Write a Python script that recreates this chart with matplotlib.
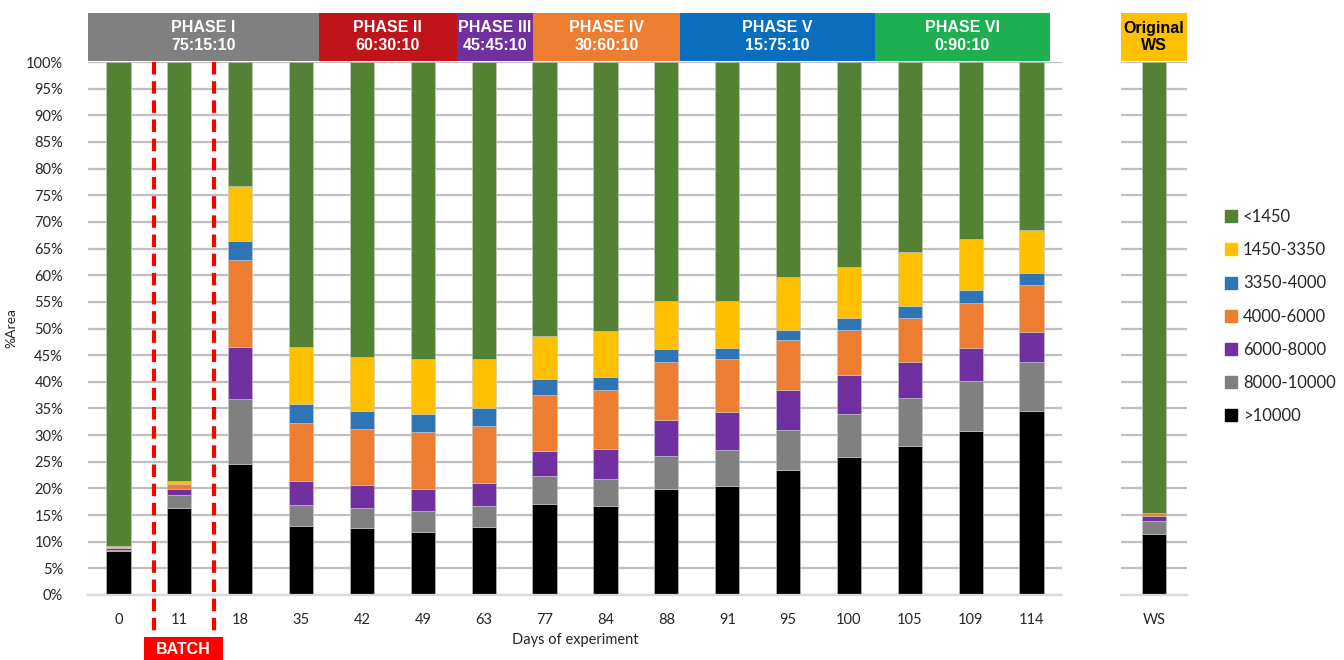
import matplotlib
matplotlib.use("Agg")
import matplotlib.pyplot as plt
import matplotlib.transforms as mtransforms
from matplotlib.lines import Line2D
from matplotlib.patches import Rectangle

plt.rcParams['font.family'] = ['Lato', 'DejaVu Sans']

# days of experiment (main panel) and the original wastewater bar
days = ["0", "11", "18", "35", "42", "49", "63", "77", "84", "88",
        "91", "95", "100", "105", "109", "114"]

# %Area per molecular weight range
gt10000 = [8.2, 16.4, 24.6, 12.9, 12.6, 11.9, 12.8, 17.0, 16.7, 19.8,
           20.4, 23.4, 25.8, 27.9, 30.7, 34.6]
r8000_10000 = [0.3, 2.4, 12.1, 4.0, 3.8, 3.85, 3.9, 5.3, 5.1, 6.2,
               6.8, 7.6, 8.1, 9.0, 9.5, 9.2]
r6000_8000 = [0.3, 1.1, 9.8, 4.5, 4.3, 4.15, 4.3, 4.8, 5.5, 6.8,
              7.2, 7.4, 7.3, 6.8, 6.1, 5.6]
r4000_6000 = [0.2, 0.9, 16.3, 10.9, 10.5, 10.6, 10.7, 10.5, 11.1, 11.0,
              9.8, 9.4, 8.5, 8.3, 8.4, 8.7]
r3350_4000 = [0.05, 0.1, 3.7, 3.5, 3.3, 3.4, 3.3, 2.9, 2.5, 2.4,
              2.1, 2.0, 2.3, 2.2, 2.6, 2.4]
r1450_3350 = [0.2, 0.4, 10.3, 10.8, 10.1, 10.3, 9.2, 8.0, 8.7, 8.9,
              8.9, 9.8, 9.6, 10.1, 9.4, 8.0]
lt1450 = [90.75, 78.7, 23.2, 53.4, 55.4, 55.8, 55.8, 51.5, 50.4, 44.9,
          44.8, 40.4, 38.4, 35.7, 33.3, 31.5]

ws_label = ["WS"]
ws_values = [11.4, 2.5, 0.9, 0.5, 0.0, 0.0, 84.7]

series_names = [">10000", "8000-10000", "6000-8000", "4000-6000",
                "3350-4000", "1450-3350", "<1450"]
series_colors = ["#000000", "#808080", "#7030A0", "#ED7D31",
                 "#2E75B6", "#FFC000", "#548235"]
series = [gt10000, r8000_10000, r6000_8000, r4000_6000,
          r3350_4000, r1450_3350, lt1450]

# phase headers: label, ratio, colour, x-range in bar index units
phases = [("PHASE I", "75:15:10", "#808080", -0.5, 3.29),
          ("PHASE II", "60:30:10", "#C0141A", 3.29, 5.56),
          ("PHASE III", "45:45:10", "#7030A0", 5.56, 6.81),
          ("PHASE IV", "30:60:10", "#ED7D31", 6.81, 9.22),
          ("PHASE V", "15:75:10", "#0A6EBF", 9.22, 12.42),
          ("PHASE VI", "0:90:10", "#1DAF50", 12.42, 15.3)]
batch_span = (0.59, 1.57)

grid_col = "#BFBFBF"
head_font = ['Liberation Sans Narrow', 'Liberation Sans', 'DejaVu Sans']

fig = plt.figure(figsize=(13.44, 6.6), dpi=100)
ax = fig.add_axes([88/1344, 1-595/660, (1062-88)/1344, 533/660])
ax2 = fig.add_axes([1121/1344, 1-595/660, (1187-1121)/1344, 533/660])


def style_axes(a):
    a.set_ylim(0, 100)
    a.set_yticks(range(0, 101, 5))
    a.yaxis.grid(True, color=grid_col, lw=1.6)
    a.set_axisbelow(True)
    for s in ["top", "right", "left"]:
        a.spines[s].set_visible(False)
    a.spines["bottom"].set_color("#D9D9D9")
    a.spines["bottom"].set_linewidth(1.6)
    a.tick_params(length=0, labelsize=10.5, colors="#262626")
    a.tick_params(axis="x", pad=13)


x = list(range(len(days)))
bottom = [0.0] * len(days)
for vals, col in zip(series, series_colors):
    ax.bar(x, vals, 0.4, bottom=bottom, color=col, edgecolor="#C8C8C8", lw=0.4)
    bottom = [b + v for b, v in zip(bottom, vals)]

style_axes(ax)
ax.set_xlim(-0.5, len(days) - 0.5)
ax.set_xticks(x)
ax.set_xticklabels(days)
ax.yaxis.set_major_formatter(matplotlib.ticker.FuncFormatter(lambda v, p: f"{v:.0f}%"))
ax.tick_params(axis="y", pad=18)
ax.set_xlabel("Days of experiment", fontsize=10.5, color="#262626", labelpad=4)
ax.set_ylabel("%Area", fontsize=10, color="#262626")
ax.yaxis.set_label_coords(-0.072, 0.5)

b = 0.0
for v, col in zip(ws_values, series_colors):
    ax2.bar([0], [v], 0.37, bottom=[b], color=col, edgecolor="#C8C8C8", lw=0.4)
    b += v
style_axes(ax2)
ax2.set_xlim(-0.5, 0.5)
ax2.set_xticks([0])
ax2.set_xticklabels(ws_label)
ax2.set_yticklabels([])

# phase header boxes
trans = mtransforms.blended_transform_factory(ax.transData, fig.transFigure)
y0, y1 = 1 - 61/660, 1 - 13/660
for name, ratio, col, xa, xb in phases:
    ax.add_patch(Rectangle((xa, y0), xb - xa, y1 - y0, transform=trans,
                           facecolor=col, edgecolor="none", clip_on=False))
    ax.text((xa + xb) / 2, (y0 + y1) / 2, name + "\n" + ratio, transform=trans,
            ha="center", va="center", color="white", fontsize=11.5,
            fontweight="bold", family=head_font, linespacing=1.25)

trans2 = mtransforms.blended_transform_factory(ax2.transData, fig.transFigure)
ax2.add_patch(Rectangle((-0.5, y0), 1.0, y1 - y0, transform=trans2,
                        facecolor="#FFC000", edgecolor="none", clip_on=False))
ax2.text(0, (y0 + y1) / 2, "Original\nWS", transform=trans2, ha="center",
         va="center", color="black", fontsize=11.5, fontweight="bold",
         family=head_font, linespacing=1.25)

# batch marker
trans3 = mtransforms.blended_transform_factory(ax.transData, ax.transAxes)
for xv in batch_span:
    ax.plot([xv, xv], [1.0, -0.08], transform=trans3, color="#FF0000", lw=3,
            ls=(0, (3, 1.6)), clip_on=False, zorder=5)
bt = mtransforms.blended_transform_factory(ax.transData, fig.transFigure)
ax.add_patch(Rectangle((0.42, 0.0), 1.30, 1 - 637/660, transform=bt,
                       facecolor="#FF0000", edgecolor="none", clip_on=False))
ax.text(1.07, 1 - 650/660, "BATCH", transform=bt, ha="center", va="center",
        color="white", fontsize=11.5, fontweight="bold", family=head_font)

handles = [Line2D([], [], marker="s", ls="none", markersize=8,
                  markerfacecolor=c, markeredgecolor=c)
           for c in series_colors[::-1]]
fig.legend(handles, series_names[::-1], loc="upper left",
           bbox_to_anchor=(1208/1344, 1 - 194/660), frameon=False,
           fontsize=12, labelspacing=1.03, handletextpad=0.2,
           handlelength=1.0, labelcolor="#262626")

fig.savefig("out.png", dpi=100)
